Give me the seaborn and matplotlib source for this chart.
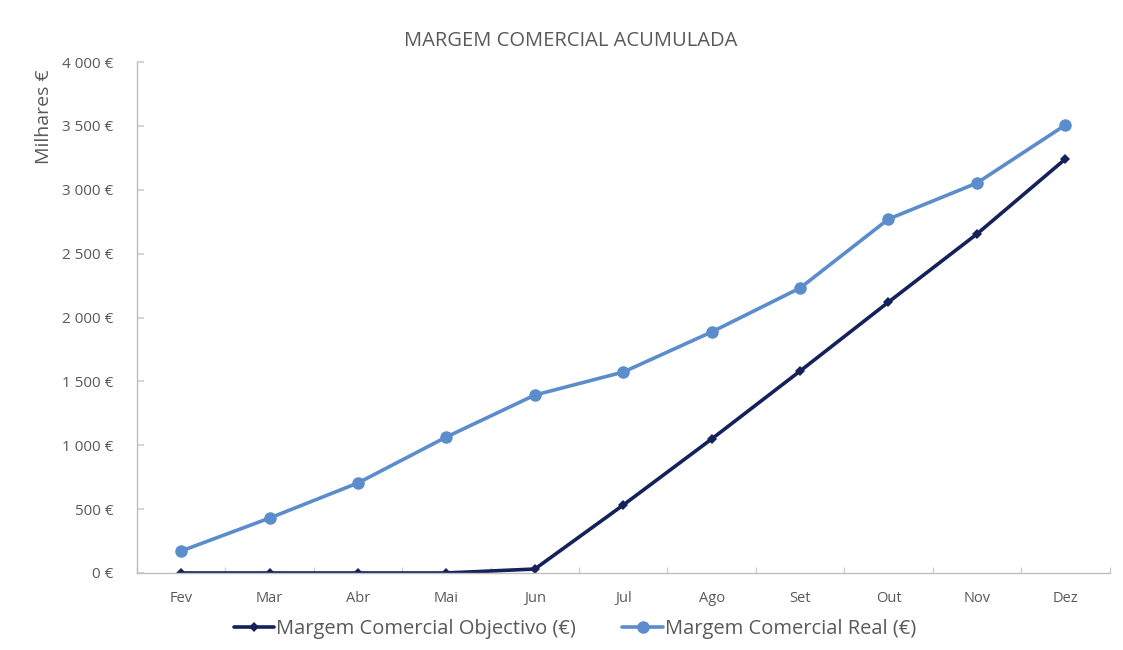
import matplotlib
matplotlib.use("Agg")
import numpy as np
import pandas as pd
import matplotlib.pyplot as plt
import seaborn as sns
from matplotlib.ticker import FuncFormatter, FixedLocator

months = ["Fev", "Mar", "Abr", "Mai", "Jun", "Jul", "Ago", "Set", "Out", "Nov", "Dez"]
objectivo = [0, 0, 0, 0, 31, 532, 1049, 1581, 2121, 2654, 3241]
real = [172, 430, 705, 1065, 1393, 1573, 1887, 2231, 2771, 3053, 3507]
yticks = [0, 500, 1000, 1500, 2000, 2500, 3000, 3500, 4000]

sns.set_theme(style="white")
plt.rcParams['font.family'] = ['Open Sans', 'DejaVu Sans']

dark = "#15215a"
light = "#5b8ccb"
gray = "#595959"

fig = plt.figure(figsize=(11.23, 6.5), dpi=100)
ax = fig.add_axes([0.122, 0.1185, 0.866, 0.786])

x = np.arange(len(months))
sns.lineplot(x=x, y=objectivo, ax=ax, color=dark, linewidth=2.6, marker="D",
             markersize=5.5, markeredgewidth=0, label="Margem Comercial Objectivo (€)")
sns.lineplot(x=x, y=real, ax=ax, color=light, linewidth=2.6, marker="o",
             markersize=9, markeredgewidth=0, label="Margem Comercial Real (€)")

ax.set_xlim(-0.5, len(months) - 0.5)
ax.set_ylim(0, 4000)
ax.set_xticks(x)
ax.set_xticklabels(months)
ax.xaxis.set_minor_locator(FixedLocator(np.arange(-0.5, len(months), 1)))
ax.set_yticks(yticks)
ax.yaxis.set_major_formatter(FuncFormatter(lambda v, p: f"{int(v):,}".replace(",", " ") + " €"))

ax.tick_params(axis="x", which="major", length=0, pad=13, labelsize=10.5, labelcolor=gray)
ax.tick_params(axis="x", which="minor", length=4, color="#cfcfcf", direction="in", bottom=True)
ax.tick_params(axis="y", which="major", length=5, color="#cfcfcf", direction="in", left=True,
               pad=17, labelsize=11, labelcolor=gray)

for side in ["top", "right"]:
    ax.spines[side].set_visible(False)
for side in ["left", "bottom"]:
    ax.spines[side].set_color("#bfbfbf")
    ax.spines[side].set_linewidth(1)

ax.set_xlabel("")
ax.set_ylabel("")
fig.text(0.039, 0.82, "Milhares €", rotation=90, ha="center", va="center",
         fontsize=14, color=gray)
fig.text(0.508, 0.937, "MARGEM COMERCIAL ACUMULADA", ha="center", va="center",
         fontsize=14.5, color=gray)

ax.legend(loc="center", bbox_to_anchor=(0.512 / 0.866 - 0.122 / 0.866, -0.11), ncol=2,
          frameon=False, fontsize=14.5, handlelength=2.0, handletextpad=0.1,
          columnspacing=2.3, labelcolor=gray)

fig.savefig("out.png", dpi=100)
